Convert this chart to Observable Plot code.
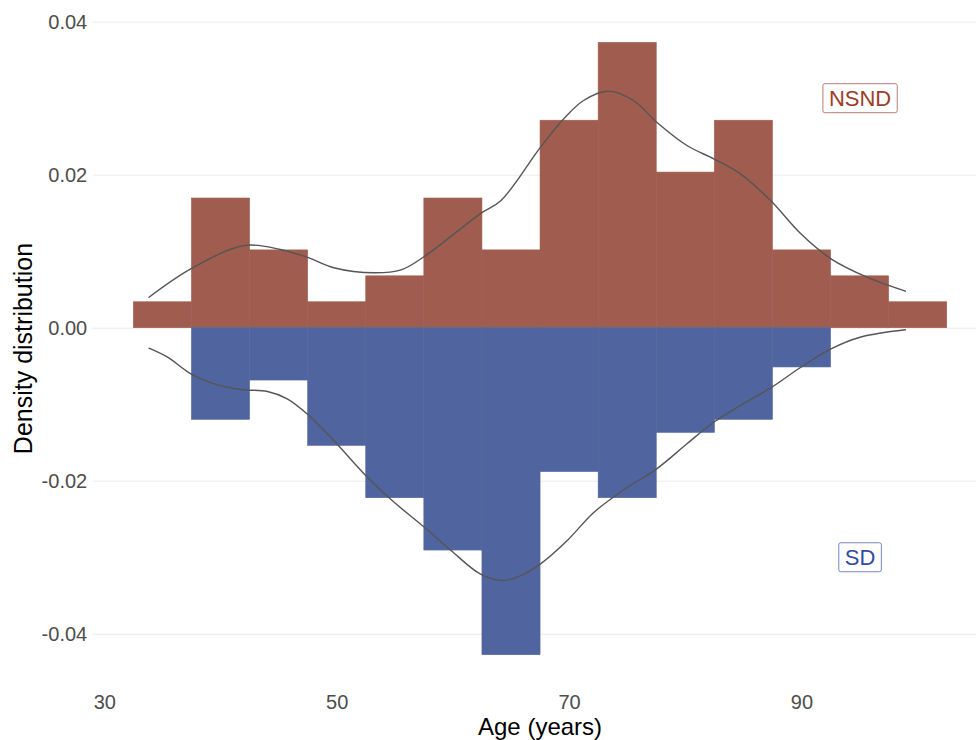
<!DOCTYPE html>
<html>
<head>
<meta charset="utf-8">
<script src="https://cdn.jsdelivr.net/npm/d3@7"></script>
<script src="https://cdn.jsdelivr.net/npm/@observablehq/plot@0.6"></script>
<style>
  html, body { margin: 0; padding: 0; background: #ffffff; overflow: hidden; }
  #chart { width: 976px; height: 740px; }
</style>
</head>
<body>
<div id="chart"></div>
<script>
// ---- Data ----
const binStart = [32.5, 37.5, 42.5, 47.5, 52.5, 57.5, 62.5, 67.5, 72.5, 77.5, 82.5, 87.5, 92.5, 97.5];
const binWidth = 5;
// histogram densities (NSND above the axis)
const nsndDensity = [0.00339, 0.01695, 0.01017, 0.00339, 0.00678, 0.01695, 0.01017, 0.02712, 0.03729, 0.02034, 0.02712, 0.01017, 0.00678, 0.00339];
// histogram densities (SD, drawn mirrored below the axis)
const sdDensity = [0, 0.01197, 0.00684, 0.01538, 0.02222, 0.02906, 0.04274, 0.01880, 0.02222, 0.01368, 0.01197, 0.00513, 0, 0];

// density curves
const nsndCurveAge = [33.8, 37.4, 42.0, 45.1, 47.4, 49.7, 53.2, 55.5, 57.5, 62.3, 64.1, 67.5, 69.5, 71.2, 73.2, 75.5, 77.5, 80.1, 82.4, 84.7, 87.3, 89.9, 92.5, 95.6, 98.9];
const nsndCurveDensity = [0.00405, 0.00776, 0.01081, 0.01029, 0.00928, 0.00790, 0.00724, 0.00763, 0.00937, 0.01495, 0.01669, 0.02366, 0.02737, 0.02976, 0.03098, 0.02976, 0.02693, 0.02388, 0.02214, 0.02018, 0.01669, 0.01234, 0.00907, 0.00667, 0.00484];
const sdCurveAge = [33.8, 35.4, 37.4, 39.4, 41.7, 44.0, 45.7, 47.4, 49.7, 52.6, 54.9, 57.5, 59.8, 62.3, 64.2, 65.8, 67.5, 69.8, 72.1, 75.0, 77.5, 80.1, 82.4, 84.7, 87.4, 89.9, 92.5, 95.0, 98.9];
const sdCurveDensity = [0.00261, 0.00379, 0.00596, 0.00727, 0.00801, 0.00827, 0.00923, 0.01119, 0.01468, 0.01948, 0.02275, 0.02601, 0.02906, 0.03211, 0.03298, 0.03233, 0.03080, 0.02775, 0.02405, 0.02078, 0.01838, 0.01511, 0.01229, 0.01010, 0.00771, 0.00510, 0.00270, 0.00118, 0.00021];

// group labels
const groupNames = ["NSND", "SD"];
const groupLabelAge = [95, 95];
const groupLabelDensity = [0.03, -0.03];

// axes
const xTicks = [30, 50, 70, 90];
const yTicks = [-0.04, -0.02, 0, 0.02, 0.04];
const xTitle = "Age (years)";
const yTitle = "Density distribution";

// ---- Build tables ----
const nsndBars = binStart.map((s, i) => ({x1: s, x2: s + binWidth, d: nsndDensity[i]})).filter(r => r.d > 0);
const sdBars = binStart.map((s, i) => ({x1: s, x2: s + binWidth, d: -sdDensity[i]})).filter(r => r.d < 0);
const nsndCurve = nsndCurveAge.map((a, i) => ({age: a, d: nsndCurveDensity[i]}));
const sdCurve = sdCurveAge.map((a, i) => ({age: a, d: -sdCurveDensity[i]}));
const labels = groupNames.map((g, i) => ({g, age: groupLabelAge[i], d: groupLabelDensity[i]}));

const NSND_FILL = "#A05D4F", SD_FILL = "#50659F";
const labelText = {NSND: "#9E3D29", SD: "#2F4DA0"};
const labelBorder = {NSND: "#B97D70", SD: "#7286C0"};

const W = 976, H = 740;
const mL = 92.7, mR = 0, mT = 11.8, mB = 54.7;

const svg = Plot.plot({
  width: W,
  height: H,
  marginLeft: mL,
  marginRight: mR,
  marginTop: mT,
  marginBottom: mB,
  style: {fontFamily: '"Liberation Sans", Arial, sans-serif', fontSize: "20px", color: "#4d4d4d", background: "#ffffff"},
  x: {domain: [29, 105.02], ticks: xTicks, tickSize: 0, tickPadding: 9, label: null},
  y: {domain: [-0.04674, 0.04129], ticks: yTicks, tickSize: 0, tickPadding: 6, tickFormat: d => d.toFixed(2), label: null},
  marks: [
    Plot.gridY(yTicks, {stroke: "#ebebeb", strokeOpacity: 1, strokeWidth: 1}),
    Plot.rect(nsndBars, {x1: "x1", x2: "x2", y1: 0, y2: "d", fill: NSND_FILL, stroke: NSND_FILL, strokeWidth: 0.6}),
    Plot.rect(sdBars, {x1: "x1", x2: "x2", y1: 0, y2: "d", fill: SD_FILL, stroke: SD_FILL, strokeWidth: 0.6}),
    Plot.line(nsndCurve, {x: "age", y: "d", stroke: "#555555", strokeWidth: 1.4, curve: "catmull-rom"}),
    Plot.line(sdCurve, {x: "age", y: "d", stroke: "#555555", strokeWidth: 1.4, curve: "catmull-rom"}),
    Plot.text(labels, {x: "age", y: "d", text: "g", fill: d => labelText[d.g], fontSize: 22, textAnchor: "middle"})
  ]
});

document.getElementById("chart").appendChild(svg);

// Boxes around the group labels (geom_label style), sized from the rendered text
d3.select(svg).selectAll("text")
  .filter(function() { return groupNames.includes(this.textContent); })
  .each(function() {
    const bb = this.getBBox();
    const name = this.textContent;
    const padX = 6, padY = 3;
    const r = document.createElementNS("http://www.w3.org/2000/svg", "rect");
    const tf = this.getAttribute("transform");
    if (tf) r.setAttribute("transform", tf);
    r.setAttribute("x", bb.x - padX);
    r.setAttribute("y", bb.y - padY + 1);
    r.setAttribute("width", bb.width + 2 * padX);
    r.setAttribute("height", bb.height + 2 * padY - 2);
    r.setAttribute("rx", 2);
    r.setAttribute("fill", "#ffffff");
    r.setAttribute("stroke", labelBorder[name]);
    r.setAttribute("stroke-width", 1);
    this.parentNode.insertBefore(r, this);
  });

// Axis titles
const s = d3.select(svg);
s.append("text")
  .attr("x", (mL + (mL + (W - mL - mR) * (106 - 29) / (105.02 - 29))) / 2)
  .attr("y", 735)
  .attr("text-anchor", "middle")
  .attr("fill", "#000000")
  .style("font-size", "24px")
  .text(xTitle);
s.append("text")
  .attr("transform", `translate(31.7, ${(mT + (H - mB)) / 2}) rotate(-90)`)
  .attr("text-anchor", "middle")
  .attr("fill", "#000000")
  .style("font-size", "25px")
  .text(yTitle);
</script>
</body>
</html>
